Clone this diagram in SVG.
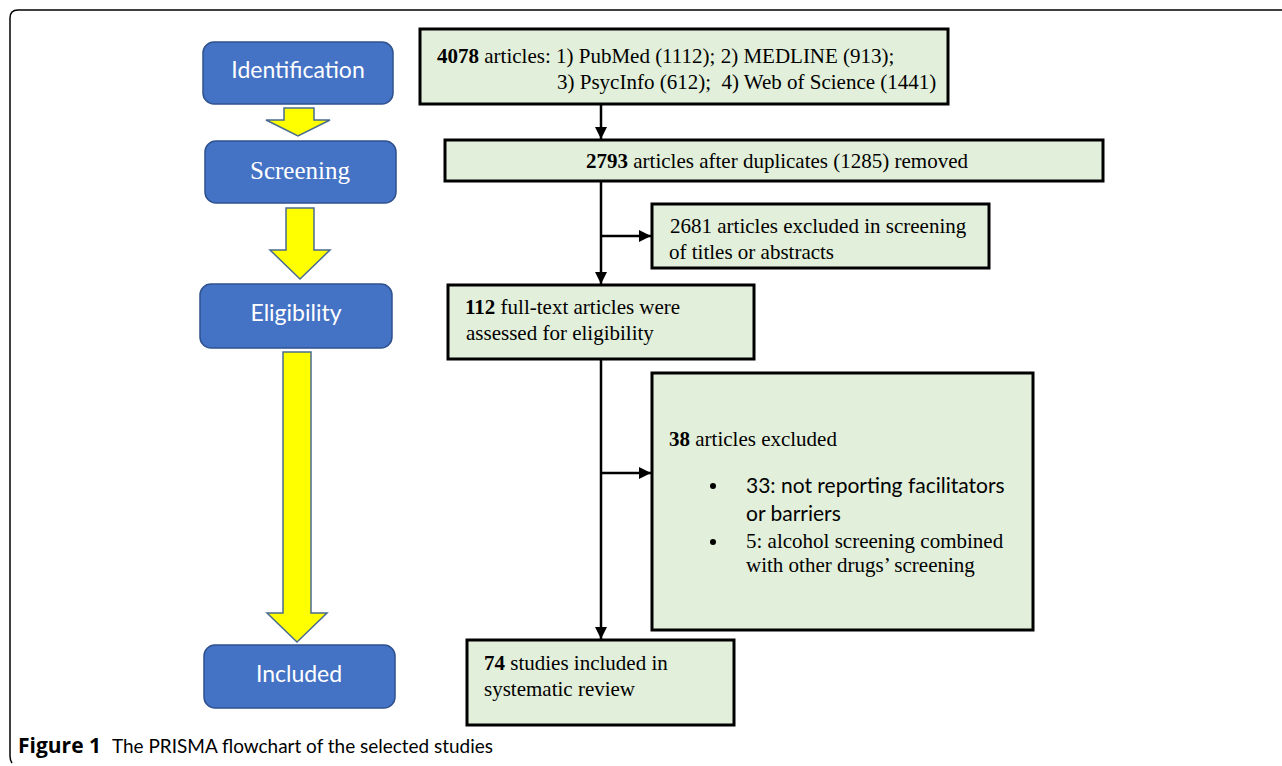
<svg xmlns="http://www.w3.org/2000/svg" width="1282" height="766" viewBox="0 0 1282 766">
<defs>
<style>
.stage{fill:#4472c4;stroke:#2f528f;stroke-width:1.5}
.stxt{fill:#ffffff;font-family:Lato,"Liberation Sans",sans-serif;font-size:23px;text-anchor:middle}
.stxts{fill:#ffffff;font-family:"Liberation Serif","Times New Roman",serif;font-size:25px;text-anchor:middle}
.yarrow{fill:#ffff00;stroke:#4a6b8f;stroke-width:1.5;stroke-linejoin:miter}
.box{fill:#e2efda;stroke:#000000;stroke-width:3}
.t{font-family:"Liberation Serif",serif;font-size:21px;fill:#000000}
.s{font-family:Lato,"Liberation Sans",sans-serif;font-size:21px;fill:#000000}
.conn{stroke:#000000;stroke-width:2.5;fill:none}
.cap{font-family:Lato,"Liberation Sans",sans-serif;font-size:20px;fill:#000000}
.capb{font-family:"Open Sans","Liberation Sans",sans-serif;font-size:21px;font-weight:bold;fill:#000000}
</style>
<marker id="ah" viewBox="0 0 10 10" refX="10" refY="5" markerWidth="5" markerHeight="5" markerUnits="strokeWidth" orient="auto">
<path d="M0,0 L10,5 L0,10 z" fill="#000000"/>
</marker>
</defs>
<rect width="1282" height="766" fill="#ffffff"/>
<path d="M1282,10 L18,10 Q10,10 10,18 L10,756 Q10,760 12,763" fill="none" stroke="#000000" stroke-width="1.5"/>

<g id="stage-identification">
<rect class="stage" x="203" y="42" width="190" height="62" rx="11"/>
<text class="stxt" x="298" y="78">Identification</text>
</g>
<g id="stage-screening">
<rect class="stage" x="205" y="141" width="191" height="62" rx="11"/>
<text class="stxts" x="300" y="179">Screening</text>
</g>
<g id="stage-eligibility">
<rect class="stage" x="200" y="284" width="192" height="64" rx="11"/>
<text class="stxt" x="296" y="321">Eligibility</text>
</g>
<g id="stage-included">
<rect class="stage" x="204" y="645" width="191" height="63" rx="11"/>
<text class="stxt" x="299" y="682">Included</text>
</g>

<g id="stage-arrows">
<path class="yarrow" d="M284,108 L314,108 L314,120 L330,120 L298,136 L266,120 L284,120 Z"/>
<path class="yarrow" d="M286,208 L314,208 L314,250 L330,250 L300,279 L270,250 L286,250 Z"/>
<path class="yarrow" d="M283,352 L311,352 L311,613 L327,613 L297,642 L267,613 L283,613 Z"/>
</g>

<g id="connectors">
<line class="conn" x1="601" y1="105" x2="601" y2="139" marker-end="url(#ah)"/>
<line class="conn" x1="601" y1="182" x2="601" y2="284" marker-end="url(#ah)"/>
<line class="conn" x1="601" y1="236" x2="651" y2="236" marker-end="url(#ah)"/>
<line class="conn" x1="601" y1="360" x2="601" y2="639" marker-end="url(#ah)"/>
<line class="conn" x1="601" y1="473" x2="651" y2="473" marker-end="url(#ah)"/>
</g>

<g id="box-identified">
<rect class="box" x="420" y="29" width="528" height="75"/>
<text class="t" x="437" y="63"><tspan font-weight="bold">4078</tspan> articles: 1) PubMed (1112); 2) MEDLINE (913);</text>
<text class="t" x="557" y="89" xml:space="preserve">3) PsycInfo (612);  4) Web of Science (1441)</text>
</g>
<g id="box-deduplicated">
<rect class="box" x="445" y="140" width="658" height="41"/>
<text class="t" x="777" y="168" text-anchor="middle"><tspan font-weight="bold">2793</tspan> articles after duplicates (1285) removed</text>
</g>
<g id="box-excluded-screening">
<rect class="box" x="652" y="204" width="337" height="64"/>
<text class="t" x="670" y="233">2681 articles excluded in screening</text>
<text class="t" x="669" y="259">of titles or abstracts</text>
</g>
<g id="box-fulltext">
<rect class="box" x="448" y="285" width="306" height="74"/>
<text class="t" x="465" y="314"><tspan font-weight="bold">112</tspan> full-text articles were</text>
<text class="t" x="466" y="340">assessed for eligibility</text>
</g>
<g id="box-excluded-fulltext">
<rect class="box" x="652" y="373" width="381" height="257"/>
<text class="t" x="669" y="446"><tspan font-weight="bold">38</tspan> articles excluded</text>
<circle cx="713" cy="486" r="3"/>
<text class="s" x="746" y="493">33: not reporting facilitators</text>
<text class="s" x="746" y="521">or barriers</text>
<circle cx="713" cy="542" r="3"/>
<text class="t" x="746" y="548">5: alcohol screening combined</text>
<text class="t" x="746" y="572">with other drugs’ screening</text>
</g>
<g id="box-included">
<rect class="box" x="467" y="640" width="267" height="85"/>
<text class="t" x="484" y="670"><tspan font-weight="bold">74</tspan> studies included in</text>
<text class="t" x="484" y="696">systematic review</text>
</g>

<g id="caption">
<text class="capb" x="18" y="753">Figure 1</text>
<text class="cap" x="112" y="753" textLength="381" lengthAdjust="spacingAndGlyphs">The PRISMA flowchart of the selected studies</text>
</g>
</svg>
